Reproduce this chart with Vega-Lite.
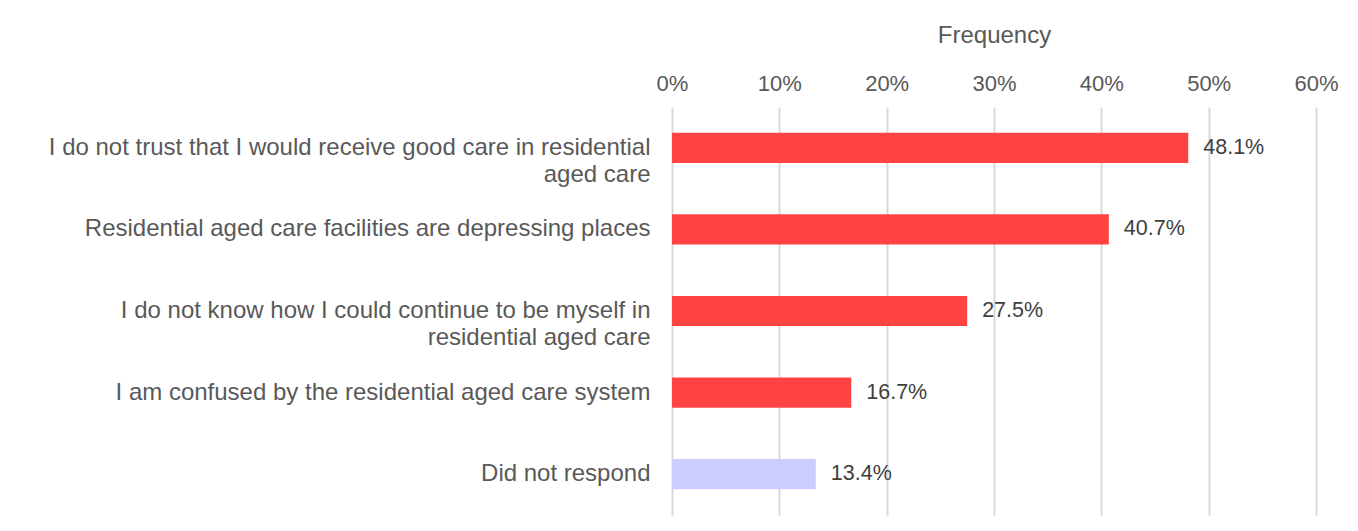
{
  "$schema": "https://vega.github.io/schema/vega-lite/v6.json",
  "autosize": {"type": "none"},
  "width": 644,
  "height": 408,
  "padding": {"left": 672, "top": 107, "right": 42, "bottom": 16},
  "background": "white",
  "config": {
    "view": {"stroke": null},
    "font": "Liberation Sans"
  },
  "data": {
    "values": [
      {"reason": "I do not trust that I would receive good care in residential|aged care", "value": 0.481, "group": "a"},
      {"reason": "Residential aged care facilities are depressing places", "value": 0.407, "group": "a"},
      {"reason": "I do not know how I could continue to be myself in|residential aged care", "value": 0.275, "group": "a"},
      {"reason": "I am confused by the residential aged care system", "value": 0.167, "group": "a"},
      {"reason": "Did not respond", "value": 0.134, "group": "b"}
    ]
  },
  "encoding": {
    "y": {
      "field": "reason",
      "type": "nominal",
      "sort": null,
      "scale": {"paddingInner": 0.63, "paddingOuter": 0.315},
      "axis": {
        "title": null,
        "domain": false,
        "ticks": false,
        "labelPadding": 22,
        "labelFontSize": 24,
        "labelColor": "#595959",
        "labelLimit": 700,
        "labelLineHeight": 27,
        "labelExpr": "split(datum.label, '|')"
      }
    },
    "x": {
      "field": "value",
      "type": "quantitative",
      "scale": {"domain": [0, 0.6], "nice": false},
      "axis": {
        "orient": "top",
        "format": "%",
        "values": [0, 0.1, 0.2, 0.3, 0.4, 0.5, 0.6],
        "title": "Frequency",
        "titleFontSize": 24,
        "titleFontWeight": "normal",
        "titleColor": "#595959",
        "titlePadding": 25,
        "labelFontSize": 22,
        "labelColor": "#595959",
        "labelPadding": 12,
        "labelFlush": false,
        "labelOverlap": false,
        "ticks": false,
        "domain": false,
        "grid": true,
        "gridColor": "#D9D9D9",
        "gridWidth": 2
      }
    }
  },
  "layer": [
    {
      "mark": {"type": "bar"},
      "encoding": {
        "color": {
          "field": "group",
          "type": "nominal",
          "scale": {"domain": ["a", "b"], "range": ["#FF4343", "#CCCCFF"]},
          "legend": null
        }
      }
    },
    {
      "mark": {"type": "text", "align": "left", "baseline": "middle", "dx": 15, "fontSize": 21.5, "color": "#404040"},
      "encoding": {
        "text": {"field": "value", "type": "quantitative", "format": ".1%"}
      }
    }
  ]
}
